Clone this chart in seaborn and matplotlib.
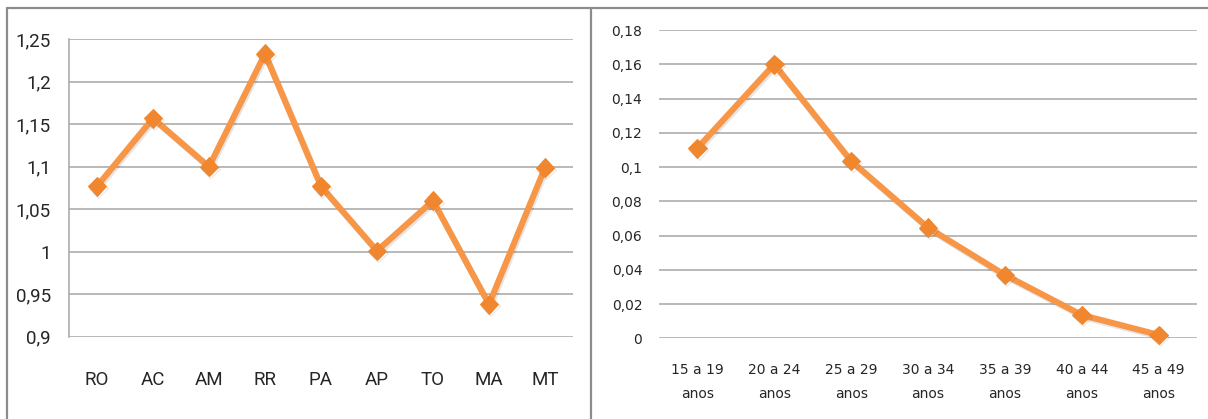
import matplotlib
matplotlib.use("Agg")
import matplotlib.pyplot as plt
import seaborn as sns
import pandas as pd
from matplotlib.lines import Line2D
import matplotlib.patheffects as pe

# ---- data ----
estados = ["RO", "AC", "AM", "RR", "PA", "AP", "TO", "MA", "MT"]
valores_estados = [1.077, 1.157, 1.100, 1.233, 1.077, 1.001, 1.060, 0.938, 1.099]
ytick_left = [0.9, 0.95, 1.0, 1.05, 1.1, 1.15, 1.2, 1.25]
ytick_left_labels = ["0,9", "0,95", "1", "1,05", "1,1", "1,15", "1,2", "1,25"]

faixas = ["15 a 19\nanos", "20 a 24\nanos", "25 a 29\nanos", "30 a 34\nanos",
          "35 a 39\nanos", "40 a 44\nanos", "45 a 49\nanos"]
valores_faixas = [0.111, 0.160, 0.1035, 0.0646, 0.037, 0.0136, 0.002]
ytick_right = [0, 0.02, 0.04, 0.06, 0.08, 0.10, 0.12, 0.14, 0.16, 0.18]
ytick_right_labels = ["0", "0,02", "0,04", "0,06", "0,08", "0,1", "0,12", "0,14", "0,16", "0,18"]

sns.set_style("white")
plt.rcParams["font.family"] = ["DejaVu Sans"]

W, H = 1208, 419
fig = plt.figure(figsize=(W / 100, H / 100), dpi=100)

LINE = "#F79646"
MARK = "#F0862E"
GRID = "#a6a6a6"
FRAME = "#8c8c8c"
TEXT = "#262626"

shadow = [pe.SimpleLineShadow(offset=(1, -1.5), shadow_color="#000000", alpha=0.10), pe.Normal()]

# ---- left chart ----
ax1 = fig.add_axes([69 / W, 1 - 336.7 / H, 504 / W, (336.7 - 39.3) / H])
df1 = pd.DataFrame({"estado": estados, "valor": valores_estados})
sns.lineplot(data=df1, x="estado", y="valor", ax=ax1, sort=False, color=LINE,
             lw=4.4, marker="D", markersize=9.5, markerfacecolor=MARK,
             markeredgecolor=MARK, path_effects=shadow)
ax1.set_xlim(-0.5, len(estados) - 0.5)
ax1.set_ylim(0.9, 1.25)
ax1.set_yticks(ytick_left)
ax1.set_yticklabels(ytick_left_labels)
ax1.set_xlabel("")
ax1.set_ylabel("")
ax1.yaxis.grid(True, color=GRID, lw=1.1)
ax1.xaxis.grid(False)
for s in ["top", "right", "bottom"]:
    ax1.spines[s].set_visible(False)
ax1.spines["left"].set_color(GRID)
ax1.spines["left"].set_linewidth(1.1)
ax1.tick_params(axis="y", length=0, pad=13, labelsize=13.5, labelcolor=TEXT)
ax1.tick_params(axis="x", length=0, pad=25, labelsize=13.5, labelcolor=TEXT)
for t in ax1.get_xticklabels() + ax1.get_yticklabels():
    t.set_fontfamily(["Roboto", "DejaVu Sans"])

# ---- right chart ----
ax2 = fig.add_axes([659 / W, 1 - 338.3 / H, 538 / W, (338.3 - 30) / H])
df2 = pd.DataFrame({"faixa": faixas, "valor": valores_faixas})
sns.lineplot(data=df2, x="faixa", y="valor", ax=ax2, sort=False, color=LINE,
             lw=4.4, marker="D", markersize=9.5, markerfacecolor=MARK,
             markeredgecolor=MARK, path_effects=shadow)
ax2.set_xlim(-0.5, len(faixas) - 0.5)
ax2.set_ylim(0, 0.18)
ax2.set_yticks(ytick_right)
ax2.set_yticklabels(ytick_right_labels)
ax2.set_xlabel("")
ax2.set_ylabel("")
ax2.yaxis.grid(True, color=GRID, lw=1.1)
ax2.xaxis.grid(False)
for s in ["top", "right", "bottom", "left"]:
    ax2.spines[s].set_visible(False)
ax2.tick_params(axis="y", length=0, pad=12, labelsize=10, labelcolor=TEXT)
ax2.tick_params(axis="x", length=0, pad=17.5, labelsize=10, labelcolor=TEXT)
for t in ax2.get_xticklabels():
    t.set_linespacing(1.95)
for ax in (ax1, ax2):
    for ln in ax.lines:
        ln.set_clip_on(False)

# ---- frames ----
def fline(xs, ys):
    fig.add_artist(Line2D([x / W for x in xs], [1 - y / H for y in ys],
                          transform=fig.transFigure, color=FRAME, lw=1.6))

fline([7.5, W], [8.5, 8.5])
fline([7.5, 7.5], [8.5, H])
fline([591, 591], [8.5, H])

fig.savefig("out.png", dpi=100)
